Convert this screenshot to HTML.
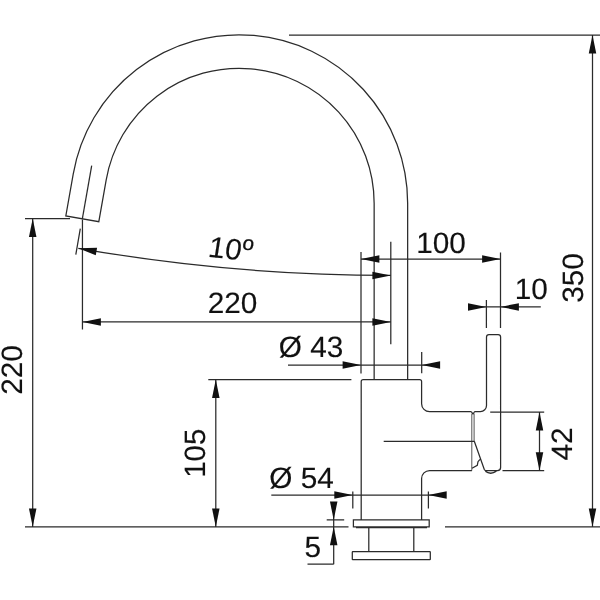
<!DOCTYPE html>
<html lang="en">
<head>
<meta charset="utf-8">
<title>Dimension drawing</title>
<style>
html,body{margin:0;padding:0;background:#fff;}
body{width:600px;height:600px;overflow:hidden;}
svg{display:block;filter:grayscale(1);}
.l{fill:none;stroke:#2b2b2b;stroke-width:1.25;}
.d{fill:none;stroke:#2b2b2b;stroke-width:1.25;}
.th{fill:none;stroke:#333;stroke-width:0.85;}
.a{fill:#111;stroke:none;}
.t{font-family:"Liberation Sans",Arial,Helvetica,sans-serif;font-size:30.2px;fill:#111;stroke:#111;stroke-width:0.15;text-rendering:geometricPrecision;}
.i{font-style:italic;}
</style>
</head>
<body>
<svg width="600" height="600" viewBox="0 0 600 600">
<rect width="600" height="600" fill="#fff"/>
<g class="d">
<path d="M289 35 L600 35 M445 526.9 L600 526.9 M592.5 35 L592.5 526.8 M25 218.6 L70 218.6 M25 526.9 L348.5 526.9 M32.7 218.6 L32.7 526.8 M208.3 379.6 L351.4 379.6 M215.8 379.6 L215.8 526.9 M82.45 219.5 L82.45 329.4 M80.3 228.7 L75.8 254.7 M82.45 321.9 L390.8 321.9 M390.8 241.7 L390.8 344.2 M361 252 L361 373.5 M421.7 352 L421.7 373.3 M361 259.1 L500.5 259.1 M500.5 252.5 L500.5 327.9 M486.4 300 L486.4 327.9 M468 306.9 L540.8 306.9 M288 365.1 L439.5 365.1 M271.3 495 L446 495 M352.8 491.6 L352.8 508.5 M428.4 491.6 L428.4 508.5 M326.7 519.9 L344.2 519.9 M333.7 502 L333.7 564.2 M333.7 564.2 L307.5 564.2 M490.2 412 L544.2 412 M502.5 470.7 L544.2 470.7 M539.5 412 L539.5 470.7 M383.7 441.4 L474.5 441.4"/>
<path d="M78.3 248.3 A1812.0 1812.0 0 0 0 390.8 275.4"/>
</g>
<path class="th" d="M471.8 413.5 V470.5 M474.1 413.5 V441.4"/>
<g class="l">
<path d="M407.65 379.6 V203.3 A168.5 168.5 0 0 0 73.21 174.04 L65.83 215.89 L98.82 221.71 L106.2 179.86 A135.0 135.0 0 0 1 374.15 203.3 V379.6"/>
<path d="M82.33 218.8 L91.7 165.62"/>
<path d="M361.2 519.9 V381.6 Q361.2 379.6 363.2 379.6 H419.6 Q421.6 379.6 421.6 381.6 V403.7 A8 8 0 0 0 429.6 411.7 H471.3 M471.9 470.5 H429.6 A8 8 0 0 0 421.6 478.5 V519.9"/>
<path d="M474.7 411.6 H480.4 A6.2 6.2 0 0 0 486.5 405.4 V337.1 Q486.5 334.6 489 334.6 H498.1 Q500.6 334.6 500.6 337.1 V467.6 Q500.6 470.7 497.5 470.7 H486.6 Q485 470.7 484.3 469.5 L474.3 441.3 M471.3 411.7 L473 414 L474.7 411.5 M485.2 471.3 Q490.6 475.2 496.4 471.3 M472 468.3 L477.3 465.3 L478 461.7 L480 459.3"/>
<path d="M353.4 519.9 H429.2 V526.9 H353.4 Z M356 527.5 H427 M368.8 527 V551.7 M413.8 527 V551.7 M352.8 551.7 H429.8 Q430.3 551.7 430.3 552.2 V559.2 Q430.3 559.7 429.8 559.7 H352.8 Q352.3 559.7 352.3 559.2 V552.2 Q352.3 551.7 352.8 551.7 Z"/>
</g>
<g>
<path class="a" d="M592.5 35 L596.25 53.4 L588.75 53.4 Z"/>
<path class="a" d="M592.5 526.8 L588.75 508.4 L596.25 508.4 Z"/>
<path class="a" d="M32.7 218.6 L36.45 237 L28.95 237 Z"/>
<path class="a" d="M32.7 526.8 L28.95 508.4 L36.45 508.4 Z"/>
<path class="a" d="M215.8 379.6 L219.55 398 L212.05 398 Z"/>
<path class="a" d="M215.8 526.9 L212.05 508.5 L219.55 508.5 Z"/>
<path class="a" d="M82.45 321.9 L100.85 318.15 L100.85 325.65 Z"/>
<path class="a" d="M390.8 321.9 L372.4 325.65 L372.4 318.15 Z"/>
<path class="a" d="M361 259.1 L379.4 255.35 L379.4 262.85 Z"/>
<path class="a" d="M500.5 259.1 L482.1 262.85 L482.1 255.35 Z"/>
<path class="a" d="M486.4 306.9 L468 310.65 L468 303.15 Z"/>
<path class="a" d="M500.5 306.9 L518.9 303.15 L518.9 310.65 Z"/>
<path class="a" d="M361 365.1 L342.6 368.85 L342.6 361.35 Z"/>
<path class="a" d="M421.7 365.1 L440.1 361.35 L440.1 368.85 Z"/>
<path class="a" d="M352.7 495 L334.3 498.75 L334.3 491.25 Z"/>
<path class="a" d="M428.3 495 L446.7 491.25 L446.7 498.75 Z"/>
<path class="a" d="M333.7 519.9 L329.95 501.5 L337.45 501.5 Z"/>
<path class="a" d="M333.7 526.8 L337.45 545.2 L329.95 545.2 Z"/>
<path class="a" d="M539.5 412 L543.25 430.4 L535.75 430.4 Z"/>
<path class="a" d="M539.5 470.7 L535.75 452.3 L543.25 452.3 Z"/>
<path class="a" d="M78.3 248.3 L97.07 247.8 L95.77 255.19 Z"/>
<path class="a" d="M390.8 275.4 L372.4 279.15 L372.4 271.65 Z"/>
</g>
<g><text transform="translate(229.2 258.9) rotate(5.5) skewX(-3.5) scale(0.985 0.975)" class="t" text-anchor="middle">10<tspan dy="-0.9">º</tspan></text>
<text transform="translate(232.5 312.8) scale(0.985 0.975)" class="t" text-anchor="middle">220</text>
<text transform="translate(441 252.5) scale(0.985 0.975)" class="t" text-anchor="middle">100</text>
<text transform="translate(531.3 298.7) scale(0.985 0.975)" class="t" text-anchor="middle">10</text>
<text transform="translate(311 357) scale(0.985 0.975)" class="t" text-anchor="middle">Ø 43</text>
<text transform="translate(301.6 488.4) scale(0.985 0.975)" class="t" text-anchor="middle">Ø 54</text>
<text transform="translate(312.7 557) scale(0.985 0.975)" class="t" text-anchor="middle">5</text>
<text transform="translate(583 277.9) rotate(-90) scale(0.985 0.975)" class="t" text-anchor="middle">350</text>
<text transform="translate(204.8 453.2) rotate(-90) scale(0.975 0.975)" class="t" text-anchor="middle">105</text>
<text transform="translate(22 370) rotate(-90) scale(0.985 0.975)" class="t" text-anchor="middle">220</text>
<text transform="translate(571.8 444) rotate(-90) scale(0.985 0.975)" class="t" text-anchor="middle">42</text></g>
</svg>
</body>
</html>
